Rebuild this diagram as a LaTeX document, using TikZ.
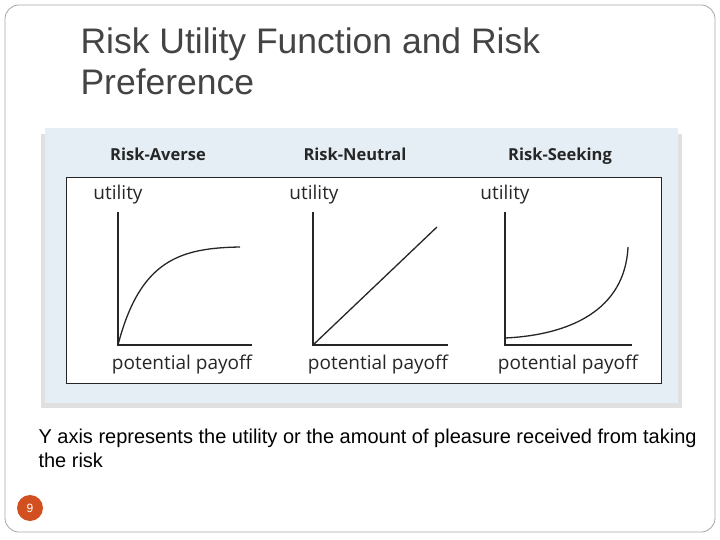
\documentclass[tikz,border=0pt]{standalone}
\usepackage{fontspec}
\setmainfont{Liberation Sans}
\newfontfamily\osans{Open Sans}
\definecolor{panel}{HTML}{E4EEF4}
\definecolor{titlec}{HTML}{444444}
\definecolor{pgc}{HTML}{D2501F}
\begin{document}
\begin{tikzpicture}[x=1pt,y=-1pt,
  hdr/.style={font=\osans\fontsize{16.5}{19}\selectfont, text=black!85, anchor=base},
  lab/.style={font=\osans\fontsize{19}{22}\selectfont, text=black!85, anchor=base},
  ax/.style={line width=1.6pt, black!85},
  crv/.style={line width=1.3pt, black!85}]
\useasboundingbox (0,0) rectangle (720,540);
\draw[gray!70, line width=0.8pt, rounded corners=14pt] (5,5) rectangle (715,532);
\node[anchor=base west, text=titlec, font=\fontsize{35.5}{40}\selectfont] (t1) at (77,54) {Risk Utility Function and Risk};
\node[anchor=base west, text=titlec, font=\fontsize{35.5}{40}\selectfont] (t2) at (77,95) {Preference};
\fill[black!12] (41,134) rectangle (682,408);
\fill[panel] (45,128) rectangle (678,403);
\draw[black!85, line width=1pt, fill=white] (66,178) rectangle (661,383);
\node[hdr] (h1) at (158,161) {\textbf{Risk-Averse}};
\node[hdr] (h2) at (355,161) {\textbf{Risk-Neutral}};
\node[hdr] (h3) at (560,161) {\textbf{Risk-Seeking}};
\foreach \x/\n in {118/a,314/b,505/c}{
  \node[lab] (u\n) at (\x,200) {utility};
}
\draw[ax] (118,212) -- (118,345) -- (252,345);
\draw[ax] (313,212) -- (313,345) -- (448,345);
\draw[ax] (505,212) -- (505,345) -- (632,345);
\draw[crv] (118,345) .. controls (140,260) and (180,248) .. (240,247);
\draw[crv] (313,345) -- (437,227);
\draw[crv] (505,338) .. controls (570,335) and (625,310) .. (628,247);
\node[lab] (p1) at (182,369) {potential payoff};
\node[lab] (p2) at (378,369) {potential payoff};
\node[lab] (p3) at (568,369) {potential payoff};
\node[anchor=base west, font=\fontsize{20}{23}\selectfont] (b1) at (35,443) {Y axis represents the utility or the amount of pleasure received from taking};
\node[anchor=base west, font=\fontsize{20}{23}\selectfont] (b2) at (35,467) {the risk};
\node[circle, fill=pgc, minimum size=26pt, inner sep=0pt, text=white, font=\fontsize{12}{14}\selectfont] (pg) at (30,508) {9};
\end{tikzpicture}
\end{document}
